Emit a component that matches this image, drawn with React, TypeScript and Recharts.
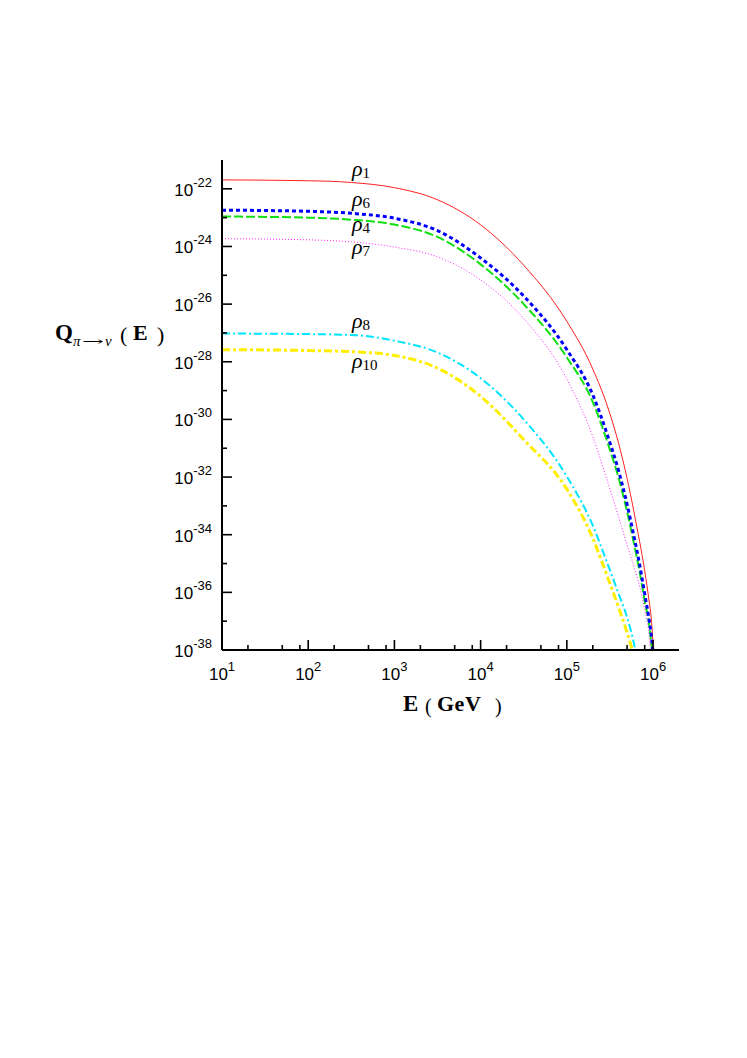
import { Line, LineChart, ReferenceDot, XAxis, YAxis } from "recharts"

// energies in GeV (shared grid), values are log10 Q
const energies = [
  10, 100, 316, 1000, 3160, 1e4, 3.16e4, 1e5, 2e5, 3e5, 4e5, 5e5, 6e5, 6.5e5,
  7e5, 8e5, 9e5, 9.5e5, 1e6, 1.02e6, 1.03e6,
]
const rho1 = [
  -21.69, -21.72, -21.78, -21.96, -22.38, -23.25, -24.65, -26.6, -28.25, -29.6,
  -30.85, -32.05, -33.2, -33.75, -34.25, -35.25, -36.3, -36.85, -37.75, -38.1,
  -38.5,
]
const rho6 = [
  -22.74, -22.78, -22.85, -23.02, -23.45, -24.4, -25.72, -27.58, -29.15, -30.6,
  -31.8, -32.95, -34.05, -34.55, -35.05, -36.05, -36.95, -37.45, -38.1, null,
  null,
]
const rho4 = [
  -22.96, -23.0, -23.07, -23.24, -23.67, -24.62, -26.0, -27.85, -29.4, -30.85,
  -32.05, -33.2, -34.3, -34.8, -35.3, -36.3, -37.1, -37.7, -38.4, null, null,
]
const rho7 = [
  -23.73, -23.77, -23.84, -24.02, -24.36, -25.16, -26.5, -28.6, -30.6, -32.2,
  -33.4, -34.35, -35.1, -35.45, -35.8, -36.6, -37.5, -38.4, null, null, null,
]
const rho8 = [
  -27.02, -27.04, -27.07, -27.27, -27.68, -28.57, -30.0, -31.98, -33.68, -35.05,
  -36.06, -36.87, -37.77, -38.3, null, null, null, null, null, null, null,
]
const rho10 = [
  -27.58, -27.61, -27.65, -27.78, -28.22, -29.2, -30.7, -32.42, -34.12, -35.51,
  -36.54, -37.4, -38.2, null, null, null, null, null, null, null, null,
]

const xTicks = [
  10, 20, 50, 80, 100, 200, 500, 800, 1e3, 2e3, 5e3, 8e3, 1e4, 2e4, 5e4, 8e4,
  1e5, 2e5, 5e5, 8e5, 1e6,
]
const yExponents = [
  -38, -37, -36, -35, -34, -33, -32, -31, -30, -29, -28, -27, -26, -25, -24,
  -23, -22,
]

// where the rho labels sit (E in GeV, log10 Q of the baseline)
const rhoLabels = [
  { name: "1", e: 322, q: -21.55 },
  { name: "6", e: 322, q: -22.59 },
  { name: "4", e: 322, q: -23.46 },
  { name: "7", e: 322, q: -24.25 },
  { name: "8", e: 322, q: -26.82 },
  { name: "10", e: 322, q: -28.2 },
]

const series = [
  { key: "r1", values: rho1, stroke: "#ff2020", width: 1, dash: undefined },
  { key: "r7", values: rho7, stroke: "#ff20ff", width: 1, dash: "1 2" },
  { key: "r4", values: rho4, stroke: "#10e010", width: 2, dash: "9 3" },
  { key: "r6", values: rho6, stroke: "#0000ff", width: 3, dash: "4 3" },
  { key: "r8", values: rho8, stroke: "#00e5ff", width: 2, dash: "8 3 2 3" },
  { key: "r10", values: rho10, stroke: "#ffee00", width: 3, dash: "8 3 3 3" },
]

const X_MIN = 10
const X_MAX = 2e6
const Y_MIN = 1e-38
const Y_MAX = 1e-21

const data = energies.map((e, i) => {
  const row: Record<string, number | null> = { e }
  series.forEach((s) => {
    const v = s.values[i]
    row[s.key] = v == null ? null : Math.pow(10, v)
  })
  return row
})

const sans = "'Liberation Sans', Arial, Helvetica, sans-serif"
const serif = "'Liberation Serif', 'Times New Roman', serif"

const isDecade = (v: number) => {
  const l = Math.log10(v)
  return Math.abs(l - Math.round(l)) < 1e-6
}

const YTickLabel = (props: any) => {
  const { x, y, payload } = props
  const exp = Math.round(Math.log10(payload.value))
  if (exp % 2 !== 0) return <g />
  return (
    <text
      x={x - 10}
      y={y + 7}
      textAnchor="end"
      fontFamily={sans}
      fontSize={17}
      fill="#000"
    >
      10
      <tspan dy={-9} fontSize={13}>
        {String(exp)}
      </tspan>
    </text>
  )
}

const XTickLabel = (props: any) => {
  const { x, y, payload } = props
  if (!isDecade(payload.value)) return <g />
  const exp = Math.round(Math.log10(payload.value))
  return (
    <text
      x={x}
      y={y + 30}
      textAnchor="middle"
      fontFamily={sans}
      fontSize={17}
      fill="#000"
    >
      10
      <tspan dy={-9} fontSize={13}>
        {String(exp)}
      </tspan>
    </text>
  )
}

// inward tick stub drawn at a reference point on an axis
const TickMark = ({ cx, cy, dx, dy }: any) => (
  <path
    d={`M${cx},${cy}L${cx + dx},${cy + dy}`}
    stroke="#000"
    strokeWidth={1.6}
    fill="none"
  />
)

const RhoText = ({ viewBox, name }: any) => (
  <text
    x={viewBox.x}
    y={viewBox.y}
    fontFamily={serif}
    fontStyle="italic"
    fontSize={22}
    fill="#000"
  >
    ρ
    <tspan fontStyle="normal" fontSize={15} dy={2}>
      {name}
    </tspan>
  </text>
)

export default function App() {
  return (
    <div style={{ position: "relative", width: 739, height: 1050 }}>
      <LineChart
        width={700}
        height={720}
        data={data}
        margin={{ top: 152, right: 29, bottom: 38, left: 154 }}
        style={{ position: "absolute", left: 0, top: 0 }}
      >
        <XAxis
          dataKey="e"
          type="number"
          scale="log"
          domain={[X_MIN, X_MAX]}
          ticks={xTicks}
          interval={0}
          allowDataOverflow
          height={40}
          tickSize={0}
          tickMargin={0}
          tickLine={false}
          tick={(p: any) => <XTickLabel {...p} />}
          axisLine={{ stroke: "#000", strokeWidth: 2 }}
        />
        <XAxis
          xAxisId="top"
          dataKey="e"
          type="number"
          scale="log"
          orientation="top"
          domain={[X_MIN, X_MAX]}
          allowDataOverflow
          height={0}
          tick={false}
          tickLine={false}
          axisLine={{ stroke: "#000", strokeWidth: 2 }}
        />
        <YAxis
          type="number"
          scale="log"
          domain={[Y_MIN, Y_MAX]}
          ticks={yExponents.map((p) => Math.pow(10, p))}
          interval={0}
          allowDataOverflow
          width={60}
          tickSize={0}
          tickMargin={0}
          tickLine={false}
          tick={(p: any) => <YTickLabel {...p} />}
          axisLine={{ stroke: "#000", strokeWidth: 2 }}
        />
        <YAxis
          yAxisId="right"
          orientation="right"
          type="number"
          scale="log"
          domain={[Y_MIN, Y_MAX]}
          allowDataOverflow
          width={0}
          tick={false}
          tickLine={false}
          axisLine={{ stroke: "#000", strokeWidth: 2 }}
        />
        {yExponents.map((p) => (
          <ReferenceDot
            key={`yt${p}`}
            x={X_MIN}
            y={Math.pow(10, p)}
            r={0}
            shape={(s: any) => (
              <TickMark {...s} dx={p % 2 === 0 ? 10 : 5} dy={0} />
            )}
          />
        ))}
        {xTicks.map((t) => (
          <ReferenceDot
            key={`xt${t}`}
            x={t}
            y={Y_MIN}
            r={0}
            shape={(s: any) => (
              <TickMark {...s} dx={0} dy={isDecade(t) ? -10 : -5} />
            )}
          />
        ))}
        {series.map((s) => (
          <Line
            key={s.key}
            dataKey={s.key}
            type="monotone"
            stroke={s.stroke}
            strokeWidth={s.width}
            strokeDasharray={s.dash}
            dot={false}
            activeDot={false}
            connectNulls={false}
            isAnimationActive={false}
          />
        ))}
        {rhoLabels.map((l) => (
          <ReferenceDot
            key={l.name}
            x={l.e}
            y={Math.pow(10, l.q)}
            r={0}
            fill="none"
            stroke="none"
            label={<RhoText name={l.name} />}
          />
        ))}
      </LineChart>
      <svg
        width={739}
        height={760}
        style={{ position: "absolute", left: 0, top: 0, pointerEvents: "none" }}
      >
        <g fill="#000">
          <text x={47} y={332} fontFamily={serif} fontWeight="bold" fontSize={23}>
            Q
          </text>
          <text x={65} y={338} fontFamily={serif} fontStyle="italic" fontSize={15}>
            π
          </text>
          <text
            x={74}
            y={338}
            fontFamily="'DejaVu Serif', serif"
            fontSize={13}
            textLength={22}
            lengthAdjust="spacingAndGlyphs"
          >
            →
          </text>
          <text x={97} y={338} fontFamily={serif} fontStyle="italic" fontSize={15}>
            ν
          </text>
          <text x={112} y={334} fontFamily={serif} fontSize={22}>
            (
          </text>
          <text x={125} y={332} fontFamily={serif} fontWeight="bold" fontSize={22}>
            E
          </text>
          <text x={149} y={334} fontFamily={serif} fontSize={22}>
            )
          </text>

          <text x={395} y={703} fontFamily={serif} fontWeight="bold" fontSize={23}>
            E
          </text>
          <text x={417} y={705} fontFamily={serif} fontSize={20}>
            (
          </text>
          <text
            x={429}
            y={703}
            fontFamily={serif}
            fontWeight="bold"
            fontSize={22}
            letterSpacing={0.5}
          >
            GeV
          </text>
          <text x={487} y={705} fontFamily={serif} fontSize={20}>
            )
          </text>
        </g>
      </svg>
    </div>
  )
}
